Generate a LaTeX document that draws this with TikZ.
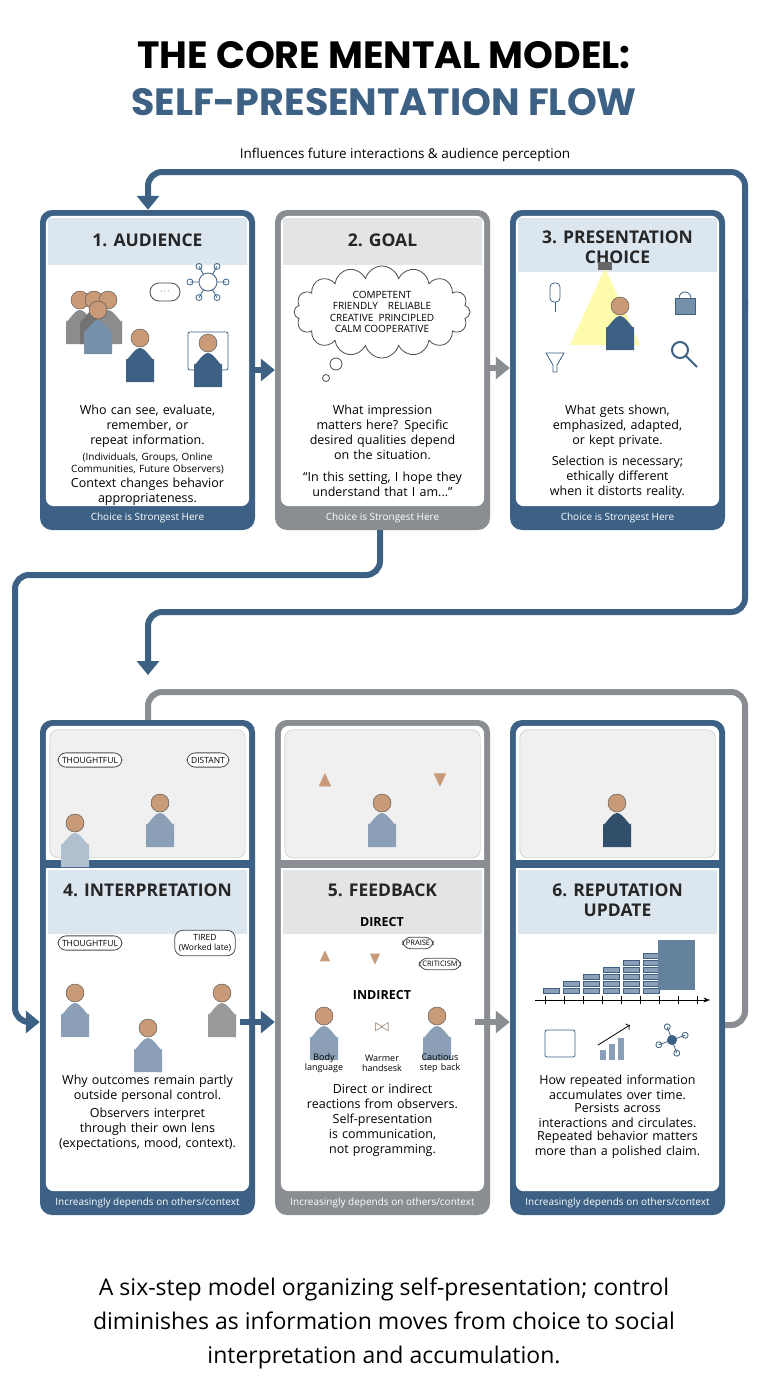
\documentclass[tikz,border=0pt]{standalone}
\usepackage{amssymb}
\usepackage{fontspec}
\setmainfont{Open Sans}
\newfontfamily\ttl{Poppins}
\usetikzlibrary{positioning,calc,shapes.symbols,arrows.meta}
\hyphenpenalty=10000
\exhyphenpenalty=10000
\definecolor{steel}{HTML}{3D6185}
\definecolor{slate}{HTML}{8A8E93}
\definecolor{tintb}{HTML}{DCE6EF}
\definecolor{tintg}{HTML}{E3E4E6}
\definecolor{skin}{HTML}{C89A78}
\tikzset{
  x=1pt, y=-1pt,
  panel/.style={fill=#1, rounded corners=12pt, minimum width=215pt, inner sep=0pt},
  body/.style={align=center, text width=182pt, inner sep=1pt,
    font=\fontsize{12.5}{15}\selectfont},
  small/.style={align=center, text width=200pt, font=\fontsize{10}{12}\selectfont},
  head/.style={align=center, font=\fontsize{17.5}{20}\selectfont\bfseries, text=black!85},
  foot/.style={font=\fontsize{10}{12}\selectfont, text=white},
  flow/.style={line width=6pt, -{Triangle[length=14pt,width=22pt]}},
  bubble/.style={draw=black!70, fill=white, thick, rounded corners=8pt, align=center,
    font=\fontsize{8.5}{10}\selectfont, inner sep=4pt},
  person/.pic={
    \fill[#1] (-14,8) to[out=-90,in=180] (0,-2) to[out=0,in=-90] (14,8) -- (14,32) -- (-14,32) -- cycle;
    \fill[skin,draw=black!70] (0,-12) circle (9pt);},
}
% panel frame with inner white and tinted header
\newcommand\panelframe[4]{% name, tint, header top, header bottom
  \fill[white, rounded corners=8pt] ($(#1.north west)+(6,6)$) rectangle ($(#1.south east)+(-6,-24)$);
  \fill[#2] ($(#1.north west)+(8,#3)$) rectangle ($(#1.north east)+(-8,#4)$);
}
\begin{document}
\begin{tikzpicture}
\useasboundingbox[fill=white] (0,0) rectangle (768,1376);

% title
\node[font=\fontsize{38}{40}\selectfont\ttl\bfseries] (t1) at (384,55) {THE CORE MENTAL MODEL:};
\node[font=\fontsize{38}{40}\selectfont\ttl\bfseries, text=steel] (t2) at (384,102) {SELF-PRESENTATION FLOW};
\node[font=\fontsize{13.5}{16}\selectfont] (loopl) at (405,155) {Influences future interactions \& audience perception};

% panels
\node[panel=steel, minimum height=320pt] (p1) at (147.5,370) {};
\node[panel=slate, minimum height=320pt] (p2) at (382.5,370) {};
\node[panel=steel, minimum height=320pt] (p3) at (617.5,370) {};
\node[panel=steel, minimum height=495pt] (p4) at (147.5,967.5) {};
\node[panel=slate, minimum height=495pt] (p5) at (382.5,967.5) {};
\node[panel=steel, minimum height=495pt] (p6) at (617.5,967.5) {};
\panelframe{p1}{tintb}{8}{55}
\panelframe{p2}{tintg}{8}{55}
\panelframe{p3}{tintb}{8}{62}
\panelframe{p4}{tintb}{150}{214}
\panelframe{p5}{tintg}{150}{214}
\panelframe{p6}{tintb}{150}{214}
\foreach \p/\c in {p4/steel,p5/slate,p6/steel}{
  \fill[black!6, draw=black!25, rounded corners=8pt] ($(\p.north west)+(10,10)$) rectangle ($(\p.north east)+(-10,138)$);
  \fill[\c] ($(\p.north west)+(0,140)$) rectangle ($(\p.north east)+(0,148)$);
}

% headers
\node[head] (h1) at (147.5,240) {1. AUDIENCE};
\node[head] (h2) at (382.5,240) {2. GOAL};
\node[head] (h3) at (617.5,247) {3. PRESENTATION\\CHOICE};
\node[head] (h4) at (147.5,890) {4. INTERPRETATION};
\node[head] (h5) at (382.5,890) {5. FEEDBACK};
\node[head] (h6) at (617.5,900) {6. REPUTATION\\UPDATE};

% footers
\foreach \p in {p1,p2,p3}
  \node[foot] at ($(\p.south)+(0,-12)$) {Choice is Strongest Here};
\foreach \p in {p4,p5,p6}
  \node[foot] at ($(\p.south)+(0,-12)$) {Increasingly depends on others/context};

% texts
\node[body, anchor=north] (b1) at (147.5,404) {Who can see, evaluate, remember, or repeat information.};
\node[small, anchor=north] (s1) at (b1.south) {(Individuals, Groups, Online\\Communities, Future Observers)};
\node[body, anchor=north] (c1) at (s1.south) {Context changes behavior appropriateness.};
\node[body, anchor=north] (b2) at (382.5,404) {What impression matters here? Specific desired qualities depend on the situation.};
\node[body, below=10pt of b2] (c2) {\textquotedblleft In this setting, I hope they understand that I am...\textquotedblright};
\node[body, anchor=north] (b3) at (617.5,404) {What gets shown, emphasized, adapted, or kept private.};
\node[body, below=6pt of b3] (c3) {Selection is necessary; ethically different when it distorts reality.};
\node[body, anchor=north] (b4) at (147.5,1074) {Why outcomes remain partly outside personal control.};
\node[body, below=3pt of b4] (c4) {Observers interpret through their own lens (expectations, mood, context).};
\node[body, anchor=north] (b5) at (382.5,1083) {Direct or indirect reactions from observers.};
\node[body, below=3pt of b5] (c5) {Self-presentation is communication, not programming.};
\node[body, anchor=north] (b6) at (617.5,1074) {How repeated information accumulates over time.};
\node[body, below=1pt of b6] (c6) {Persists across interactions and circulates.};
\node[body, below=1pt of c6] (d6) {Repeated behavior matters more than a polished claim.};

% panel 1 icons
\foreach \i/\c in {0/black!45,1/black!55,2/black!45}
  \pic at ({80+\i*14},312) {person=\c};
\pic at (98,322) {person=steel!70};
\pic at (140,350) {person=steel};
\node[bubble, minimum width=30pt, minimum height=18pt, rounded corners=9pt] (d1) at (165,292) {$\cdots$};
\draw[steel, thick] (208,282) circle (9pt);
\foreach \a in {0,60,...,300}
  \draw[steel, thick] ($(208,282)+(\a:9pt)$) -- ($(208,282)+(\a:18pt)$) circle (3pt);
\draw[steel, thick, rounded corners=2pt] (188,332) rectangle (228,370);
\pic at (208,355) {person=steel};

% panel 2 cloud
\node[cloud, cloud puffs=16, cloud ignores aspect, draw=black!70, fill=white, thick,
  minimum width=176pt, minimum height=92pt, inner sep=0pt, align=center,
  font=\fontsize{10}{11.5}\selectfont] (g2) at (382,312)
  {COMPETENT\\FRIENDLY\quad RELIABLE\\CREATIVE\ \ PRINCIPLED\\CALM COOPERATIVE};
\draw[thick, black!70, fill=white] (336,364) circle (6pt) (326,378) circle (3.5pt);

% panel 3 icons
\fill[yellow!40, opacity=.8] (605,268) -- (570,345) -- (640,345) -- cycle;
\fill[black!60] (598,262) rectangle (612,270);
\pic at (620,318) {person=steel};
\draw[steel, thick, rounded corners=4pt] (550,283) rectangle (560,302);
\draw[steel, thick] (555,302) -- (555,312);
\draw[steel, thick] (546,353) -- (564,353) -- (557,365) -- (557,372) -- (553,372) -- (553,365) -- cycle;
\draw[steel, thick, fill=steel!70] (675,298) rectangle (695,314);
\draw[steel, thick] (679,298) arc (180:0:6pt);
\draw[steel, line width=2pt] (680,350) circle (8pt) (686,356) -- (697,367);

% panel 4 icons
\pic at (160,815) {person=steel!60};
\pic at (75,835) {person=steel!40};
\node[bubble] (th4) at (90,760) {THOUGHTFUL};
\node[bubble] (ds4) at (208,760) {DISTANT};
\pic at (75,1005) {person=steel!60};
\pic at (148,1040) {person=steel!60};
\pic at (222,1005) {person=black!40};
\node[bubble] (th4b) at (90,943) {THOUGHTFUL};
\node[bubble] (ti4) at (205,943) {TIRED\\(Worked late)};

% panel 5 icons
\pic at (382,815) {person=steel!60};
\node[font=\fontsize{22}{22}\selectfont, text=skin] (up5) at (325,780) {$\blacktriangle$};
\node[font=\fontsize{22}{22}\selectfont, text=skin] (dn5) at (440,780) {$\blacktriangledown$};
\node[font=\fontsize{12.5}{14}\selectfont\bfseries] (dr5) at (382,922) {DIRECT};
\node[font=\fontsize{12.5}{14}\selectfont\bfseries] (in5) at (382,995) {INDIRECT};
\node[font=\fontsize{18}{18}\selectfont, text=skin] (u5) at (325,957) {$\blacktriangle$};
\node[font=\fontsize{18}{18}\selectfont, text=skin] (d5) at (375,960) {$\blacktriangledown$};
\node[bubble, font=\fontsize{7.5}{9}\selectfont, inner sep=3pt] (pr5) at (418,943) {PRAISE};
\node[bubble, font=\fontsize{7.5}{9}\selectfont, inner sep=3pt] (cr5) at (440,964) {CRITICISM};
\pic at (324,1028) {person=steel!60};
\node[font=\fontsize{16}{16}\selectfont, text=skin!70!black] (hs5) at (382,1027) {$\bowtie$};
\pic at (437,1028) {person=steel!60};
\node[small, text width=50pt, font=\fontsize{9}{10}\selectfont] at (324,1063) {Body\\language};
\node[small, text width=50pt, font=\fontsize{9}{10}\selectfont] at (382,1063) {Warmer\\handsesk};
\node[small, text width=50pt, font=\fontsize{9}{10}\selectfont] at (440,1063) {Cautious\\step back};

% panel 6 icons
\pic at (617,815) {person=steel!80!black};
\foreach \c/\n in {0/1,1/2,2/3,3/4,4/5,5/6}
  \foreach \k in {1,...,\n}
    \fill[steel!60, draw=steel] ({543+\c*20},{1000-\k*7}) rectangle ++(16,-5);
\fill[steel!80] (658,940) rectangle (695,990);
\draw[thick, -{Stealth}] (535,1000) -- (710,1000);
\foreach \i in {0,...,8} \draw[thick] ({545+\i*19},996) -- ++(0,8);
\draw[steel, thick, rounded corners=2pt] (545,1030) rectangle (575,1057);
\foreach \i in {0,1,2} \fill[steel!60] ({600+\i*9},1060) rectangle ++(6,{-10-\i*6});
\draw[thick, ->] (598,1045) -- (630,1025);
\fill[steel] (672,1040) circle (5pt);
\foreach \a in {20,110,200,290} \draw[steel, thick] (672,1040) -- ++(\a:14pt) circle (3pt);

% connectors
\draw[flow, steel] (p1.east |- 0,370) -- (p2.west |- 0,370);
\draw[flow, slate] (p2.east |- 0,368) -- (p3.west |- 0,368);
\draw[flow, steel] (240,1022) -- (p5.west |- 0,1022);
\draw[flow, slate] (475,1022) -- (p6.west |- 0,1022);
\draw[steel, line width=6pt, rounded corners=14pt, -{Triangle[length=14pt,width=22pt]}]
  (745,300) -- (745,612) -- (148,612) -- (148,675);
\draw[steel, line width=6pt, rounded corners=14pt, -{Triangle[length=14pt,width=22pt]}]
  (745,310) -- (745,172) -- (148,172) -- (p1.north -| 148,0);
\draw[steel, line width=6pt, rounded corners=14pt, -{Triangle[length=14pt,width=22pt]}]
  (p2.south -| 380,0) -- (380,575) -- (15,575) -- (15,1022) -- (p4.west |- 0,1022);
\draw[slate, line width=6pt, rounded corners=14pt]
  (p4.north -| 148,0) -- (148,692) -- (745,692) -- (745,1025) -- (p6.east |- 0,1025);

% caption
\node[align=center, font=\fontsize{23}{34}\selectfont] (cap) at (384,1323)
  {A six-step model organizing self-presentation; control\\diminishes as information moves from choice to social\\interpretation and accumulation.};
\end{tikzpicture}
\end{document}
